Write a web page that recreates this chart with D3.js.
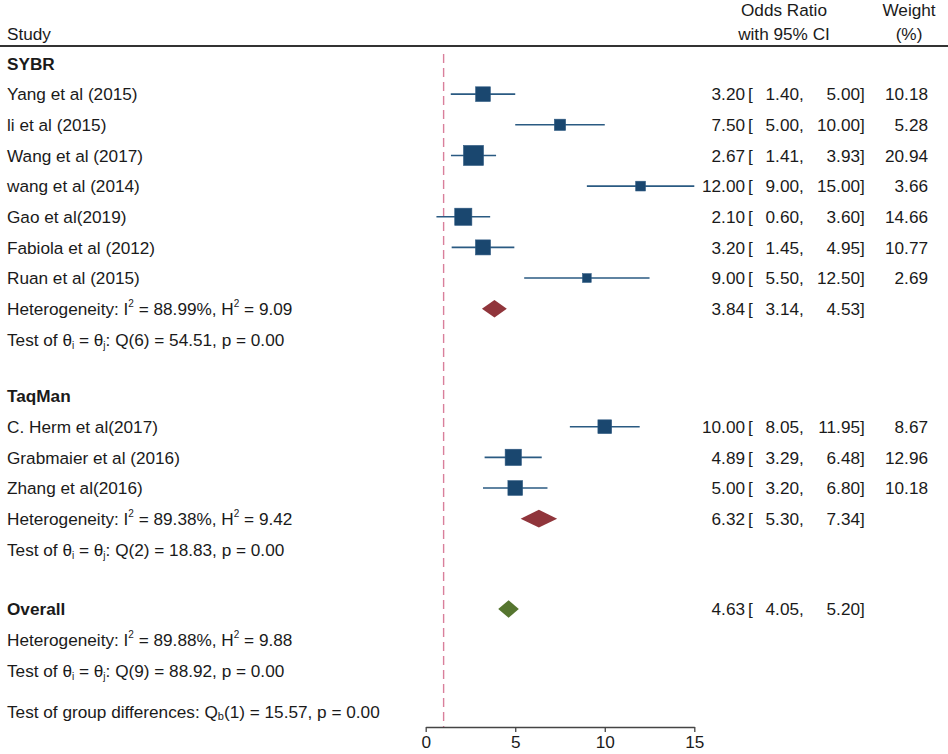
<!DOCTYPE html>
<html lang="en">
<head>
    <meta charset="UTF-8">
    <title>Forest plot</title>
    <script src="https://d3js.org/d3.v7.min.js"></script>
    <style>
        body { margin: 0; background: #fff; }
        svg text { font-family: "Liberation Sans", Arial, sans-serif; font-size: 17.2px; fill: #1a1a1a; }
        .bold { font-weight: bold; }
        .ci { stroke: #2a5a82; stroke-width: 1.6px; }
        .axis path, .axis line { stroke: #444; stroke-width: 1.3px; }
    </style>
</head>
<body>
<div id="chart"></div>
<script>
    const width = 948, height = 754;

    // study rows: label, OR, lower, upper, weight, row index
    const studies = [
        { label: "Yang et al (2015)",        or: 3.20,  lo: 1.40, hi: 5.00,  w: 10.18, row: 1 },
        { label: "li et al (2015)",          or: 7.50,  lo: 5.00, hi: 10.00, w: 5.28,  row: 2 },
        { label: "Wang et al (2017)",        or: 2.67,  lo: 1.41, hi: 3.93,  w: 20.94, row: 3 },
        { label: "wang et al (2014)",        or: 12.00, lo: 9.00, hi: 15.00, w: 3.66,  row: 4 },
        { label: "Gao et al(2019)",          or: 2.10,  lo: 0.60, hi: 3.60,  w: 14.66, row: 5 },
        { label: "Fabiola et al (2012)",     or: 3.20,  lo: 1.45, hi: 4.95,  w: 10.77, row: 6 },
        { label: "Ruan et al (2015)",        or: 9.00,  lo: 5.50, hi: 12.50, w: 2.69,  row: 7 },
        { label: "C. Herm et al(2017)",      or: 10.00, lo: 8.05, hi: 11.95, w: 8.67,  row: 11.85 },
        { label: "Grabmaier et al (2016)",   or: 4.89,  lo: 3.29, hi: 6.48,  w: 12.96, row: 12.85 },
        { label: "Zhang et al(2016)",        or: 5.00,  lo: 3.20, hi: 6.80,  w: 10.18, row: 13.85 }
    ];

    // pooled estimates
    const pooled = [
        { or: 3.84, lo: 3.14, hi: 4.53, row: 8,     color: "#90353b" },
        { or: 6.32, lo: 5.30, hi: 7.34, row: 14.85, color: "#90353b" },
        { or: 4.63, lo: 4.05, hi: 5.20, row: 17.8,  color: "#55752f" }
    ];

    const groupHeads = [
        { label: "SYBR",    row: 0 },
        { label: "TaqMan",  row: 10.85 },
        { label: "Overall", row: 17.8 }
    ];

    // heterogeneity rows: I2, H2
    const hetRows = [
        { i2: "88.99%", h2: "9.09", row: 8 },
        { i2: "89.38%", h2: "9.42", row: 14.85 },
        { i2: "89.88%", h2: "9.88", row: 18.8 }
    ];

    // Q test rows
    const testRows = [
        { df: 6, q: "54.51", p: "0.00", row: 9 },
        { df: 2, q: "18.83", p: "0.00", row: 15.85 },
        { df: 9, q: "88.92", p: "0.00", row: 19.8 }
    ];

    const groupDiff = { df: 1, q: "15.57", p: "0.00", row: 21.15 };

    const xTicks = [0, 5, 10, 15];
    const nullValue = 1;

    const svg = d3.select("#chart").append("svg")
        .attr("width", width)
        .attr("height", height);

    const x = d3.scaleLinear().domain([0, 15]).range([425.7, 694.3]);
    const y = d3.scaleLinear().domain([0, 1]).range([63.5, 94.15]);
    const side = d3.scalePow().exponent(0.5).domain([0, 20.94]).range([2.4, 20]);

    const fmt = d3.format(".2f");
    const labelX = 7;
    const orX = 745, loX = 799, hiX = 860, wX = 928;
    const mid = 6.2; // half x-height shift to centre text on a row

    // header
    svg.append("text").attr("x", labelX).attr("y", 40).text("Study");
    svg.append("text").attr("x", 784).attr("y", 16).attr("text-anchor", "middle").text("Odds Ratio");
    svg.append("text").attr("x", 784).attr("y", 40).attr("text-anchor", "middle").text("with 95% CI");
    svg.append("text").attr("x", 909).attr("y", 16).attr("text-anchor", "middle").text("Weight");
    svg.append("text").attr("x", 909).attr("y", 40).attr("text-anchor", "middle").text("(%)");
    svg.append("line")
        .attr("x1", 0).attr("x2", width)
        .attr("y1", 46).attr("y2", 46)
        .attr("stroke", "#333").attr("stroke-width", 2);

    // null line
    svg.append("line")
        .attr("x1", x(nullValue)).attr("x2", x(nullValue))
        .attr("y1", 54).attr("y2", 727)
        .attr("stroke", "#d97f9b").attr("stroke-width", 1.4)
        .attr("stroke-dasharray", "9,5");

    // axis
    svg.append("g")
        .attr("class", "axis")
        .attr("transform", "translate(0,727)")
        .call(d3.axisBottom(x).tickValues(xTicks).tickSize(5).tickSizeOuter(0).tickPadding(4))
        .call(g => g.selectAll("text").style("font-size", "17.2px").attr("fill", "#1a1a1a"));

    // group headings
    svg.selectAll(".ghead").data(groupHeads).enter().append("text")
        .attr("class", "bold")
        .attr("x", labelX)
        .attr("y", d => y(d.row) + mid)
        .text(d => d.label);

    // study labels
    svg.selectAll(".slabel").data(studies).enter().append("text")
        .attr("x", labelX)
        .attr("y", d => y(d.row) + mid)
        .text(d => d.label);

    // CI lines and squares
    svg.selectAll(".ci").data(studies).enter().append("line")
        .attr("class", "ci")
        .attr("x1", d => x(d.lo)).attr("x2", d => x(d.hi))
        .attr("y1", d => y(d.row)).attr("y2", d => y(d.row));

    svg.selectAll(".box").data(studies).enter().append("rect")
        .attr("x", d => x(d.or) - side(d.w) / 2)
        .attr("y", d => y(d.row) - side(d.w) / 2)
        .attr("width", d => side(d.w))
        .attr("height", d => side(d.w))
        .attr("fill", "#1a476f")
        .attr("stroke", "#2c5880")
        .attr("stroke-width", 0.6);

    // diamonds
    svg.selectAll(".dia").data(pooled).enter().append("path")
        .attr("d", d => {
            const cy = y(d.row), h = 8.8;
            return `M${x(d.lo)},${cy} L${x(d.or)},${cy - h} L${x(d.hi)},${cy} L${x(d.or)},${cy + h} Z`;
        })
        .attr("fill", d => d.color);

    // right-hand columns
    const estRows = studies.concat(pooled);
    const right = svg.append("g");
    estRows.forEach(d => {
        const g = right.append("g").attr("transform", `translate(0,${y(d.row) + mid})`);
        g.append("text").attr("x", orX).attr("text-anchor", "end").text(fmt(d.or));
        g.append("text").attr("x", orX + 3).text("[");
        g.append("text").attr("x", loX).attr("text-anchor", "end").text(fmt(d.lo));
        g.append("text").attr("x", loX).text(",");
        g.append("text").attr("x", hiX).attr("text-anchor", "end").text(fmt(d.hi));
        g.append("text").attr("x", hiX).text("]");
        if (d.w !== undefined) {
            g.append("text").attr("x", wX).attr("text-anchor", "end").text(fmt(d.w));
        }
    });

    // heterogeneity text
    hetRows.forEach(d => {
        const t = svg.append("text").attr("x", labelX).attr("y", y(d.row) + mid);
        t.append("tspan").text("Heterogeneity: I");
        t.append("tspan").attr("dy", -8).style("font-size", "10px").text("2");
        t.append("tspan").attr("dy", 8).text(` = ${d.i2}, H`);
        t.append("tspan").attr("dy", -8).style("font-size", "10px").text("2");
        t.append("tspan").attr("dy", 8).text(` = ${d.h2}`);
    });

    // Q tests
    testRows.forEach(d => {
        const t = svg.append("text").attr("x", labelX).attr("y", y(d.row) + mid);
        t.append("tspan").text("Test of \u03b8");
        t.append("tspan").attr("dy", 3).style("font-size", "10px").text("i");
        t.append("tspan").attr("dy", -3).text(" = \u03b8");
        t.append("tspan").attr("dy", 3).style("font-size", "10px").text("j");
        t.append("tspan").attr("dy", -3).text(`: Q(${d.df}) = ${d.q}, p = ${d.p}`);
    });

    // group differences
    const gd = svg.append("text").attr("x", labelX).attr("y", y(groupDiff.row) + mid);
    gd.append("tspan").text("Test of group differences: Q");
    gd.append("tspan").attr("dy", 2).style("font-size", "11px").text("b");
    gd.append("tspan").attr("dy", -2).text(`(${groupDiff.df}) = ${groupDiff.q}, p = ${groupDiff.p}`);
</script>
</body>
</html>
